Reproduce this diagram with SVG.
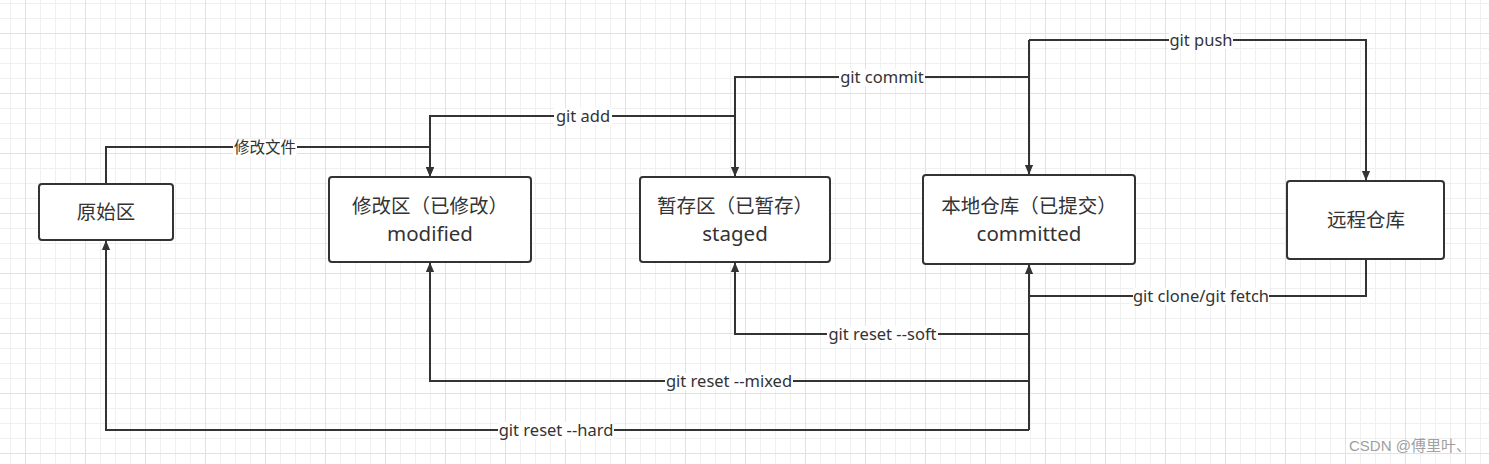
<svg xmlns="http://www.w3.org/2000/svg" width="1489" height="464" viewBox="0 0 1489 464">
<style>
.node rect{fill:#fff;stroke:#333;stroke-width:2}
.nt{font-family:"Noto Sans","Noto Sans CJK SC",sans-serif;font-size:19.5px;fill:#333;text-anchor:middle}
.ne{font-family:"Noto Sans","Noto Sans CJK SC",sans-serif;font-size:20.5px;fill:#333;text-anchor:middle}
.edge{fill:none;stroke:#333;stroke-width:2}
.lbg{fill:#fff}
.lt{font-family:"Noto Sans","Noto Sans CJK SC",sans-serif;font-size:16.5px;fill:#333;text-anchor:middle}
.lc{font-family:"Noto Sans CJK SC",sans-serif;font-size:15.5px;fill:#333;text-anchor:middle}
.wm{font-family:"Liberation Sans","Noto Sans CJK SC",sans-serif;font-size:15px;fill:#a0a0a0}
</style>
<defs>
<pattern id="grid" x="25" y="33" width="60" height="60" patternUnits="userSpaceOnUse">
<path d="M15.5 0V60M30.5 0V60M45.5 0V60M0 15.5H60M0 30.5H60M0 45.5H60" stroke="#f0f0f0" stroke-width="1" fill="none"/>
<path d="M0.5 0V60M0 0.5H60" stroke="#e2e2e2" stroke-width="1" fill="none"/>
</pattern>
<marker id="arr" markerWidth="10" markerHeight="12" refX="11" refY="5" viewBox="0 0 12 10" orient="auto" markerUnits="userSpaceOnUse">
<path d="M0 0L12 5L0 10Z" fill="#333"/>
</marker>
</defs>
<rect width="1489" height="464" fill="#fff"/>
<rect width="1489" height="464" fill="url(#grid)"/>

<g id="connectors">
<path class="edge" d="M106 184V147H430V176" marker-end="url(#arr)"/>
<path class="edge" d="M735 116H430V176" marker-end="url(#arr)"/>
<path class="edge" d="M1029 77H735V176" marker-end="url(#arr)"/>
<path class="edge" d="M1029 40V174" marker-end="url(#arr)"/>
<path class="edge" d="M1029 40H1366V180" marker-end="url(#arr)"/>
<path class="edge" d="M1366 259V296H1029V265" marker-end="url(#arr)"/>
<path class="edge" d="M1029 296V430"/>
<path class="edge" d="M1029 334H735V263" marker-end="url(#arr)"/>
<path class="edge" d="M1029 381H430V263" marker-end="url(#arr)"/>
<path class="edge" d="M1029 430H106V241" marker-end="url(#arr)"/>
<g id="labels">
<rect class="lbg" x="233" y="139" width="64" height="17"/><text class="lc" x="265" y="153">修改文件</text>
<rect class="lbg" x="554" y="108" width="58" height="17"/><text class="lt" x="583" y="122">git add</text>
<rect class="lbg" x="839" y="69" width="86" height="17"/><text class="lt" x="882" y="83">git commit</text>
<rect class="lbg" x="1169" y="32" width="64" height="17"/><text class="lt" x="1201" y="46">git push</text>
<rect class="lbg" x="1133" y="288" width="136" height="17"/><text class="lt" x="1201" y="302">git clone/git fetch</text>
<rect class="lbg" x="827" y="326" width="111" height="17"/><text class="lt" x="882.5" y="340">git reset --soft</text>
<rect class="lbg" x="665" y="373" width="128" height="17"/><text class="lt" x="729" y="387">git reset --mixed</text>
<rect class="lbg" x="498" y="422" width="116" height="17"/><text class="lt" x="556" y="436">git reset --hard</text>
</g>
</g>

<g id="node-yuanshi" class="node"><rect x="39" y="184" width="134" height="56" rx="3"/><text class="nt" x="106" y="219">原始区</text></g>
<g id="node-modified" class="node"><rect x="329" y="177" width="202" height="85" rx="3"/><text class="nt" x="430" y="213">修改区（已修改）</text><text class="ne" x="430" y="241">modified</text></g>
<g id="node-staged" class="node"><rect x="640" y="177" width="190" height="85" rx="3"/><text class="nt" x="735" y="213">暂存区（已暂存）</text><text class="ne" x="735" y="241">staged</text></g>
<g id="node-committed" class="node"><rect x="923" y="175" width="212" height="89" rx="3"/><text class="nt" x="1029" y="213">本地仓库（已提交）</text><text class="ne" x="1029" y="241">committed</text></g>
<g id="node-remote" class="node"><rect x="1287" y="181" width="157" height="78" rx="3"/><text class="nt" x="1366" y="227">远程仓库</text></g>

<text class="wm" x="1349" y="451">CSDN @傅里叶、</text>
</svg>
